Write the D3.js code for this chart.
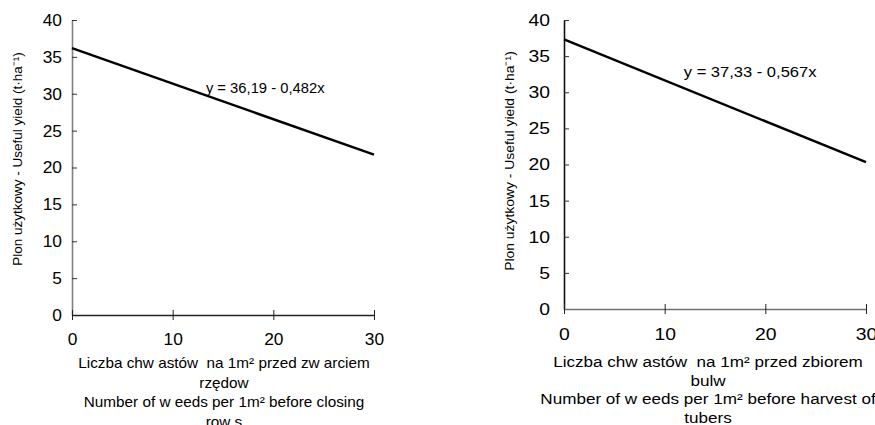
<!DOCTYPE html>
<html>
<head>
<meta charset="utf-8">
<script src="https://cdn.jsdelivr.net/npm/d3@7"></script>
<style>
  body { margin: 0; background: #fff; }
  svg text { font-family: "Liberation Sans", Arial, sans-serif; fill: #000; white-space: pre; }
  .tick text { font-size: 17px; }
  .eq { font-size: 14.5px; }
  .xtitle { font-size: 15px; }
  .ytitle { font-size: 13.5px; }
</style>
</head>
<body>
<svg width="875" height="425"></svg>
<script>
// regression lines, x from 0 to 30
const xDomain = [0, 30];
const yDomain = [0, 40];
const xTicks = [0, 10, 20, 30];
const yTicks = [0, 5, 10, 15, 20, 25, 30, 35, 40];

const intercepts = [36.19, 37.33];
const slopes = [-0.482, -0.567];
const equations = ["y = 36,19 - 0,482x", "y = 37,33 - 0,567x"];
const eqAt = [13.3, 11.9]; // x value where the equation label starts

const yTitle = "Plon użytkowy - Useful yield (t·ha⁻¹)";
const xTitles = [
  ["Liczba chw astów  na 1m² przed zw arciem", "rzędow", "Number of w eeds per 1m² before closing", "row s"],
  ["Liczba chw astów  na 1m² przed zbiorem", "bulw", "Number of w eeds per 1m² before harvest of", "tubers"]
];

// panel layout (the right panel's text is drawn wider, as in the original)
const panels = [
  { x0: 72, x1: 374, y0: 315, y1: 20, sx: 1.02, ytx: 22, ytY: 159, yAxisCol: "#808080", xAxisCol: "#222",
    eqY: 93, xlY: 345, xtY: 368, xtStep: 19.5, xtCx: 224, ylOff: 10 },
  { x0: 564, x1: 866, y0: 309, y1: 20, sx: 1.14, ytx: 514, ytY: 161, yAxisCol: "#111", xAxisCol: "#707070",
    eqY: 77, xlY: 340, xtY: 367, xtStep: 18.7, xtCx: 708, ylOff: 14 }
];

const svg = d3.select("svg");

panels.forEach((p, i) => {
  const x = d3.scaleLinear().domain(xDomain).range([p.x0, p.x1]);
  const y = d3.scaleLinear().domain(yDomain).range([p.y0, p.y1]);
  const g = svg.append("g");

  // y axis: ticks cross the axis line
  const ya = g.append("g").attr("transform", `translate(${p.x0},0)`)
    .call(d3.axisLeft(y).tickValues(yTicks).tickSize(5).tickSizeOuter(0));
  ya.select(".domain").attr("stroke", p.yAxisCol).attr("stroke-width", 1.6);
  ya.selectAll(".tick line").attr("x2", 5).attr("stroke", "#333");
  ya.selectAll(".tick text").attr("x", null)
    .attr("transform", `translate(${-p.ylOff},0) scale(${p.sx},1)`);

  const xa = g.append("g").attr("transform", `translate(0,${p.y0})`)
    .call(d3.axisBottom(x).tickValues(xTicks).tickSize(5).tickSizeOuter(0));
  xa.select(".domain").attr("stroke", p.xAxisCol).attr("stroke-width", 1.6);
  xa.selectAll(".tick line").attr("y1", -5).attr("stroke", "#222");
  xa.selectAll(".tick text").attr("y", null).attr("dy", null)
    .attr("transform", `translate(0,${p.xlY - p.y0}) scale(${p.sx},1)`);

  // regression line
  const pts = xDomain.map(v => [v, intercepts[i] + slopes[i] * v]);
  g.append("path")
    .datum(pts)
    .attr("d", d3.line().x(d => x(d[0])).y(d => y(d[1])))
    .attr("fill", "none")
    .attr("stroke", "#000")
    .attr("stroke-width", 2.4);

  g.append("text").attr("class", "eq")
    .attr("transform", `translate(${x(eqAt[i])},${p.eqY}) scale(${p.sx},1)`)
    .text(equations[i]);

  // axis titles
  g.append("text").attr("class", "ytitle")
    .attr("text-anchor", "middle")
    .attr("transform", `translate(${p.ytx},${p.ytY}) rotate(-90) scale(${i ? 1.03 : 1},1)`)
    .text(yTitle);

  g.selectAll("text.xtitle")
    .data(xTitles[i])
    .enter()
    .append("text")
    .attr("class", "xtitle")
    .attr("text-anchor", "middle")
    .attr("transform", (d, k) => `translate(${p.xtCx},${p.xtY + k * p.xtStep}) scale(${p.sx},1)`)
    .text(d => d);
});
</script>
</body>
</html>
